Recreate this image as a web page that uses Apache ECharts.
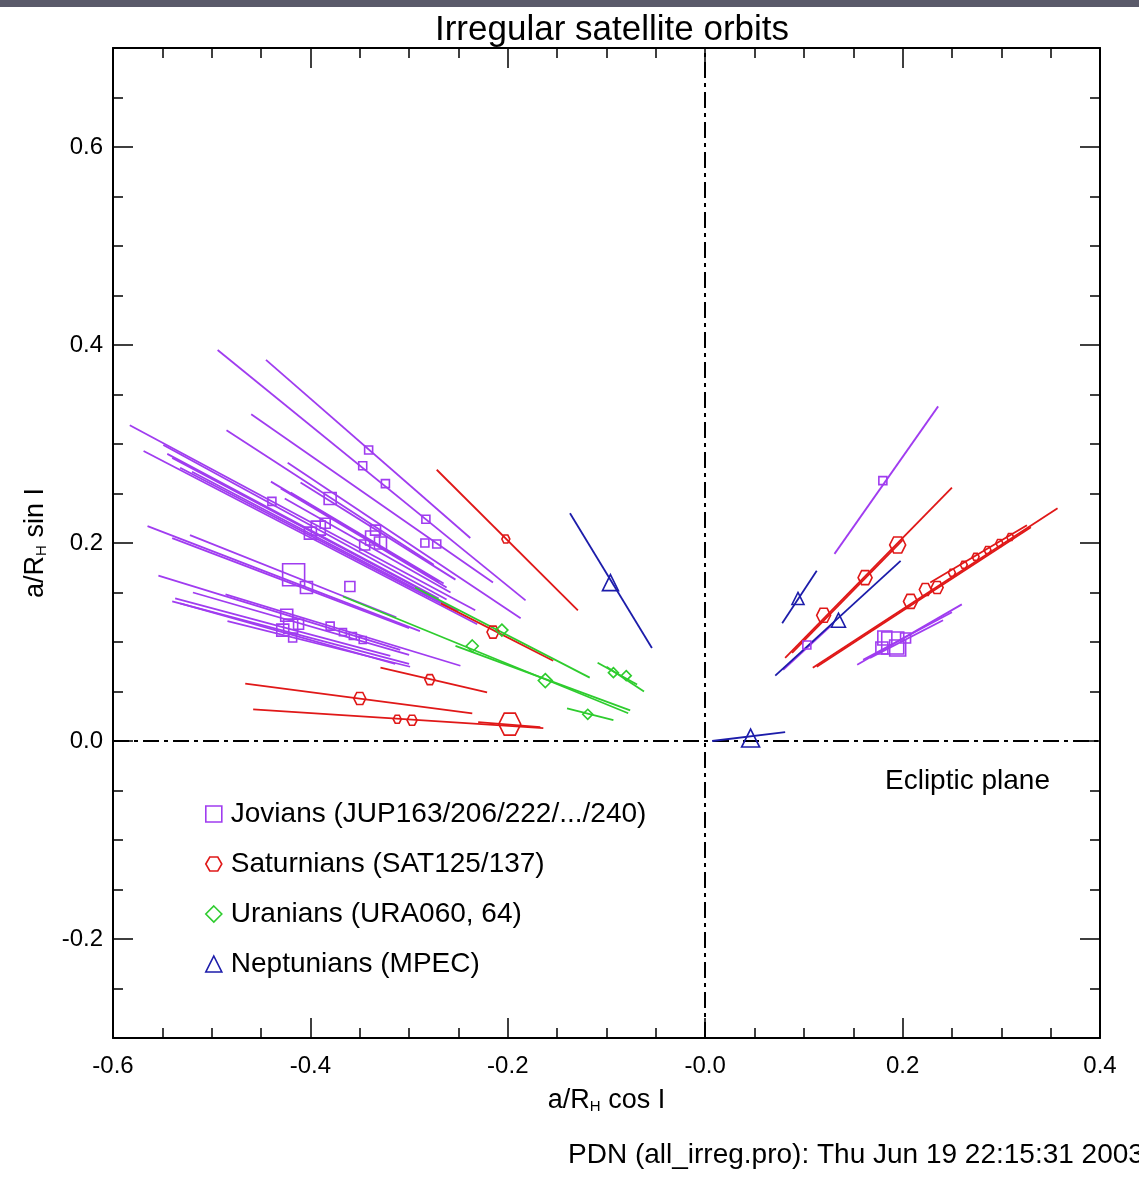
<!DOCTYPE html>
<html>
<head>
<meta charset="utf-8">
<script src="https://cdn.jsdelivr.net/npm/echarts@6/dist/echarts.min.js"></script>
<style>
html,body{margin:0;padding:0;background:#fff;}
#c{width:1139px;height:1198px;}
</style>
</head>
<body>
<div id="c"></div>
<script>
// ---------- data (a/R_H cos I , a/R_H sin I) ----------
// orbit range segments: [x1, y1, x2, y2]
const jovianLines = [
  [-0.494,0.395,-0.182,0.142],[-0.445,0.385,-0.238,0.205],[-0.583,0.319,-0.233,0.132],
  [-0.569,0.293,-0.231,0.118],[-0.485,0.314,-0.275,0.178],[-0.423,0.281,-0.187,0.124],
  [-0.460,0.330,-0.215,0.160],[-0.549,0.299,-0.262,0.143],[-0.532,0.276,-0.268,0.139],
  [-0.540,0.286,-0.275,0.146],[-0.520,0.272,-0.250,0.131],[-0.545,0.290,-0.270,0.144],
  [-0.420,0.251,-0.265,0.159],[-0.426,0.245,-0.258,0.150],[-0.410,0.261,-0.253,0.163],
  [-0.440,0.262,-0.270,0.161],[-0.430,0.255,-0.262,0.155],
  [-0.565,0.217,-0.289,0.111],[-0.522,0.208,-0.313,0.125],[-0.540,0.205,-0.300,0.114],
  [-0.554,0.167,-0.309,0.092],[-0.537,0.144,-0.319,0.086],[-0.532,0.139,-0.314,0.078],
  [-0.540,0.141,-0.300,0.078],[-0.519,0.150,-0.300,0.087],[-0.484,0.121,-0.299,0.075],
  [-0.486,0.148,-0.248,0.076],
  [0.131,0.189,0.236,0.338],[0.154,0.077,0.260,0.138],[0.167,0.084,0.241,0.122],
  [0.160,0.082,0.250,0.130],[0.079,0.072,0.127,0.116]
];
// mean positions: [x, y, marker size]
const jovianMarks = [
  [-0.341,0.294,8],[-0.347,0.278,8],[-0.324,0.260,8],[-0.283,0.224,8],[-0.439,0.242,8],
  [-0.380,0.245,12],[-0.392,0.215,14],[-0.400,0.210,12],[-0.385,0.220,10],[-0.337,0.205,14],
  [-0.329,0.200,12],[-0.334,0.213,10],[-0.345,0.198,10],[-0.284,0.200,8],[-0.272,0.199,8],
  [-0.417,0.168,22],[-0.404,0.155,12],[-0.360,0.156,10],[-0.424,0.127,12],[-0.420,0.116,14],
  [-0.428,0.112,12],[-0.412,0.118,10],[-0.418,0.104,8],[-0.380,0.116,8],[-0.367,0.110,7],
  [-0.357,0.106,7],[-0.347,0.102,7],
  [0.180,0.263,8],[0.190,0.099,22],[0.182,0.104,14],[0.195,0.094,16],[0.179,0.094,12],
  [0.203,0.104,10],[0.103,0.097,8]
];
const saturnianLines = [
  [-0.272,0.274,-0.129,0.132],[-0.268,0.139,-0.154,0.081],[-0.466,0.058,-0.236,0.028],
  [-0.329,0.074,-0.221,0.049],[-0.458,0.032,-0.164,0.013],[-0.230,0.019,-0.167,0.014],
  [0.081,0.084,0.250,0.256],[0.088,0.089,0.200,0.203],[0.109,0.074,0.357,0.235],
  [0.113,0.075,0.330,0.216],[0.228,0.160,0.326,0.218]
];
const saturnianMarks = [
  [-0.202,0.204,8],[-0.215,0.110,12],[-0.350,0.043,12],[-0.279,0.062,10],[-0.312,0.022,8],
  [-0.297,0.021,10],[-0.198,0.017,22],[0.120,0.127,14],[0.162,0.165,14],[0.195,0.198,16],
  [0.208,0.141,14],[0.223,0.153,12],[0.235,0.155,12],
  [0.250,0.170,7],[0.262,0.178,7],[0.274,0.186,7],[0.286,0.193,7],[0.298,0.200,7],[0.309,0.206,7]
];
const uranianLines = [
  [-0.367,0.146,-0.078,0.028],[-0.294,0.155,-0.117,0.064],[-0.253,0.096,-0.076,0.031],
  [-0.109,0.079,-0.069,0.057],[-0.100,0.075,-0.062,0.050],[-0.140,0.033,-0.093,0.021]
];
const uranianMarks = [
  [-0.236,0.096,12],[-0.206,0.112,12],[-0.162,0.061,14],[-0.080,0.066,10],[-0.093,0.069,10],
  [-0.119,0.027,10]
];
const neptunianLines = [
  [-0.137,0.230,-0.054,0.094],[0.078,0.119,0.113,0.172],[0.071,0.066,0.198,0.182],
  [0.007,0.000,0.081,0.009]
];
const neptunianMarks = [
  [-0.096,0.160,16],[0.094,0.144,12],[0.135,0.122,14],[0.046,0.003,18]
];
const groupNames = [
  'Jovians (JUP163/206/222/.../240)',
  'Saturnians (SAT125/137)',
  'Uranians (URA060, 64)',
  'Neptunians (MPEC)'
];
const xTicksLabeled = [-0.6,-0.4,-0.2,0.0,0.2,0.4];
const yTicksLabeled = [-0.2,0.0,0.2,0.4,0.6];
const zeroLines = [[0,-0.3,0,0.7],[-0.6,0,0.4,0]];

// ---------- styling ----------
const FONT = 'Liberation Sans, Arial, sans-serif';
const colors = ['#a03cf0','#e01818','#2ecc2e','#1c1caa'];
const hexagon = 'path://M-1,0 L-0.5,-0.866 L0.5,-0.866 L1,0 L0.5,0.866 L-0.5,0.866 Z';
const symbols = ['rect', hexagon, 'diamond', 'triangle'];
const lineSets = [jovianLines, saturnianLines, uranianLines, neptunianLines];
const markSets = [jovianMarks, saturnianMarks, uranianMarks, neptunianMarks];

const series = [];
groupNames.forEach((name, g) => {
  series.push({
    type: 'lines', coordinateSystem: 'cartesian2d', silent: true, z: 2,
    lineStyle: {color: colors[g], width: 1.8, opacity: 1},
    data: lineSets[g].map(s => ({coords: [[s[0], s[1]], [s[2], s[3]]]}))
  });
});
groupNames.forEach((name, g) => {
  series.push({
    name: name, type: 'scatter', z: 3, symbol: symbols[g],
    symbolSize: d => d[2],
    itemStyle: {color: 'rgba(255,255,255,0)', borderColor: colors[g], borderWidth: 1.6, opacity: 1},
    data: markSets[g]
  });
});
series.push({
  type: 'lines', coordinateSystem: 'cartesian2d', silent: true, z: 1,
  lineStyle: {color: '#000', width: 2, type: [16, 5, 4, 5], opacity: 1},
  data: zeroLines.map(s => ({coords: [[s[0], s[1]], [s[2], s[3]]]}))
});

function isOn(v, list){ return list.some(t => Math.abs(t - v) < 1e-6); }
function fmtX(v){ if (Math.abs(v) < 1e-9) return '-0.0'; return v.toFixed(1); }
function fmtY(v){ if (Math.abs(v) < 1e-9) return '0.0'; return isOn(v, yTicksLabeled) ? v.toFixed(1) : ''; }

const axisLineStyle = {show: true, onZero: false, lineStyle: {color: '#000', width: 2}};
const labelStyle = {color: '#000', fontSize: 24, fontFamily: FONT};
const nameRich = {
  t: {fontSize: 27, fontFamily: FONT, color: '#000', verticalAlign: 'bottom', lineHeight: 30},
  s: {fontSize: 15, fontFamily: FONT, color: '#000', verticalAlign: 'bottom', lineHeight: 22}
};

const xBase = {
  type: 'value', min: -0.6, max: 0.4, interval: 0.2,
  axisLine: axisLineStyle,
  axisTick: {show: true, inside: true, length: 20, lineStyle: {color: '#000', width: 1.5}},
  minorTick: {show: true, splitNumber: 4, length: 10, lineStyle: {color: '#000', width: 1.5}},
  splitLine: {show: false}, minorSplitLine: {show: false}
};
const yMinor = {
  type: 'value', min: -0.3, max: 0.7, interval: 0.05,
  axisLine: axisLineStyle,
  axisTick: {show: true, inside: true, length: 10, lineStyle: {color: '#000', width: 1.5}},
  splitLine: {show: false}
};
const yMajor = {
  type: 'value', min: -0.3, max: 0.7, interval: 0.05,
  axisLine: {show: false, onZero: false},
  axisTick: {show: true, inside: true, length: 20, customValues: yTicksLabeled, lineStyle: {color: '#000', width: 1.5}},
  axisLabel: {show: false},
  splitLine: {show: false}
};

const option = {
  animation: false,
  backgroundColor: '#fff',
  title: {
    text: 'Irregular satellite orbits', left: 607, top: 8, textAlign: 'center',
    textStyle: {fontSize: 35, fontWeight: 'normal', color: '#000', fontFamily: FONT}
  },
  grid: {left: 113, right: 39, top: 48, bottom: 160, containLabel: false},
  legend: {
    orient: 'vertical', left: 200, top: 795, itemGap: 22, itemWidth: 16, itemHeight: 16,
    selectedMode: false,
    textStyle: {fontSize: 28, color: '#000', fontFamily: FONT, lineHeight: 28, padding: [0, 0, 0, 4]},
    data: groupNames.map((n, g) => ({
      name: n, icon: symbols[g],
      itemStyle: {color: 'rgba(255,255,255,0)', borderColor: colors[g], borderWidth: 1.6}
    }))
  },
  xAxis: [
    Object.assign({}, xBase, {
      position: 'bottom',
      axisLabel: {show: true, margin: 16, formatter: fmtX, customValues: xTicksLabeled, ...labelStyle},
      name: '{t|a/R}{s|H}{t| cos I}', nameLocation: 'middle', nameGap: 46,
      nameTextStyle: {rich: nameRich}
    }),
    Object.assign({}, xBase, {position: 'top', axisLabel: {show: false}})
  ],
  yAxis: [
    Object.assign({}, yMinor, {
      position: 'left',
      axisLabel: {show: true, interval: 0, margin: 10, formatter: fmtY, customValues: yTicksLabeled, ...labelStyle},
      name: '{t|a/R}{s|H}{t| sin I}', nameLocation: 'middle', nameGap: 64, nameRotate: 90,
      nameTextStyle: {rich: nameRich}
    }),
    Object.assign({}, yMajor, {position: 'left', offset: 0}),
    Object.assign({}, yMinor, {position: 'right', axisLabel: {show: false}}),
    Object.assign({}, yMajor, {position: 'right', offset: 0})
  ],
  graphic: [
    {type: 'rect', left: 0, top: 0, shape: {width: 1139, height: 7}, style: {fill: '#5a5a6a'}, silent: true},
    {type: 'text', left: 885, top: 767, style: {text: 'Ecliptic plane', fontSize: 28, fontFamily: FONT, fill: '#000'}},
    {type: 'text', left: 568, top: 1141, style: {text: 'PDN (all_irreg.pro): Thu Jun 19 22:15:31 2003', fontSize: 28, fontFamily: FONT, fill: '#000'}}
  ],
  series: series
};

const chart = echarts.init(document.getElementById('c'), null, {renderer: 'canvas'});
chart.setOption(option);
</script>
</body>
</html>
